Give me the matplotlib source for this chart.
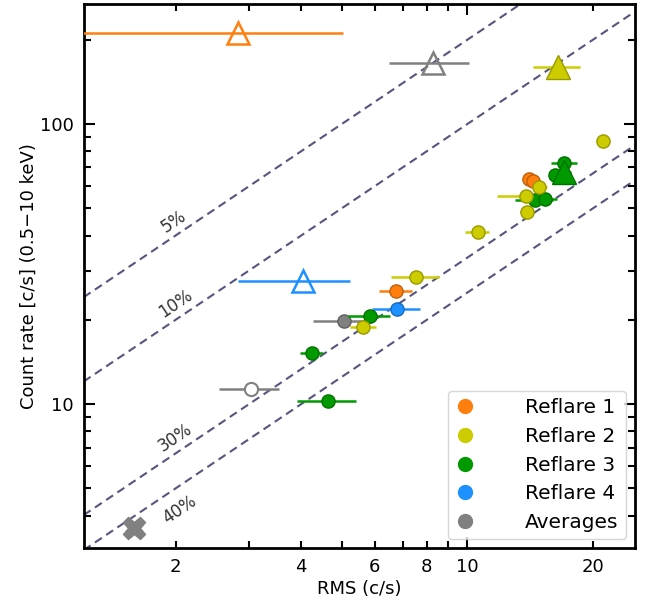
import numpy as np
import matplotlib
matplotlib.use("Agg")
import matplotlib.pyplot as plt
from matplotlib.lines import Line2D
from matplotlib.ticker import FuncFormatter, NullFormatter

# colours per group
C_R1 = '#ff7f0e'
C_R2 = '#cccc00'
C_R3 = '#009900'
C_R4 = '#1e90ff'
C_AV = '#808080'

# Reflare 1
r1_x = [6.76, 14.1, 14.4]
r1_y = [25.3, 63.7, 62.6]
r1_xerr = [0.6, 0.5, 0.5]
r1_tri = (2.83, 211, 2.2)

# Reflare 2
r2_x = [21.1, 14.9, 13.8, 13.9, 10.6, 7.55, 5.64]
r2_y = [86.9, 59.6, 55.3, 48.5, 41.1, 28.4, 18.8]
r2_xerr = [0.8, 0.6, 2.0, 0.5, 0.7, 1.0, 0.4]
r2_tri = (16.5, 160, 2.1)

# Reflare 3
r3_x = [17.1, 16.2, 14.55, 15.4, 5.86, 4.24, 4.65]
r3_y = [72.6, 65.8, 53.5, 53.9, 20.6, 15.2, 10.3]
r3_xerr = [1.25, 0.5, 1.5, 1.0, 0.67, 0.27, 0.75]
r3_tri = (17.1, 67.4, 0.6)

# Reflare 4
r4_x = [6.80]
r4_y = [21.8]
r4_xerr = [0.9]
r4_tri = (4.03, 27.5, 1.2)

# Averages
av_fill = (5.08, 19.8, 0.8)
av_open = (3.04, 11.3, 0.5)
av_tri = (8.3, 165, 1.8)
av_cross = (1.59, 3.6)

fractions = [0.05, 0.10, 0.30, 0.40]
frac_labels = ['5%', '10%', '30%', '40%']
label_pos = [(1.98, 44.7), (2.0, 22.9), (2.0, 7.6), (2.05, 4.2)]

legend_names = ['Reflare 1', 'Reflare 2', 'Reflare 3', 'Reflare 4', 'Averages']
legend_cols = [C_R1, C_R2, C_R3, C_R4, C_AV]


def darker(c, f=0.75):
    r, g, b = matplotlib.colors.to_rgb(c)
    return (r * f, g * f, b * f)


fig = plt.figure(figsize=(6.49, 6.05), dpi=100)
ax = fig.add_axes([0.129, 0.094, 0.849, 0.899])
ax.set_xscale('log')
ax.set_yscale('log')
ax.set_xlim(1.205, 25.2)
ax.set_ylim(3.06, 268)

# constant fractional rms lines
xx = np.array([1.0, 40.0])
for f in fractions:
    ax.plot(xx, xx / f, ls='--', color='#55557f', lw=1.5, dashes=(4, 2.5), zorder=1)

# circles with x error bars
for xs, ys, es, c in [(r1_x, r1_y, r1_xerr, C_R1), (r3_x, r3_y, r3_xerr, C_R3),
                      (r2_x, r2_y, r2_xerr, C_R2), (r4_x, r4_y, r4_xerr, C_R4)]:
    ax.errorbar(xs, ys, xerr=es, fmt='o', color=c, ms=9.5, mec=darker(c),
                mew=1.0, elinewidth=1.8, capsize=0, zorder=3)

# triangles
ax.errorbar(r1_tri[0], r1_tri[1], xerr=r1_tri[2], fmt='^', color=C_R1, ms=16,
            mfc='none', mec=C_R1, mew=1.8, elinewidth=1.8, zorder=3)
ax.errorbar(r2_tri[0], r2_tri[1], xerr=r2_tri[2], fmt='^', color=C_R2, ms=17,
            mec=darker(C_R2), mew=1.0, elinewidth=1.8, zorder=3)
ax.errorbar(r3_tri[0], r3_tri[1], xerr=r3_tri[2], fmt='^', color=C_R3, ms=17,
            mec=darker(C_R3), mew=1.0, elinewidth=1.8, zorder=4)
ax.errorbar(r4_tri[0], r4_tri[1], xerr=r4_tri[2], fmt='^', color=C_R4, ms=16,
            mfc='none', mec=C_R4, mew=1.8, elinewidth=1.8, zorder=3)
ax.errorbar(av_tri[0], av_tri[1], xerr=av_tri[2], fmt='^', color=C_AV, ms=16,
            mfc='none', mec=C_AV, mew=1.8, elinewidth=1.8, zorder=3)

# averages circles
ax.errorbar(av_fill[0], av_fill[1], xerr=av_fill[2], fmt='o', color=C_AV, ms=9.5,
            mec=darker(C_AV), mew=1.0, elinewidth=1.8, zorder=2.5)
ax.errorbar(av_open[0], av_open[1], xerr=av_open[2], fmt='o', color=C_AV, ms=9.5,
            mfc='white', mec=C_AV, mew=1.5, elinewidth=1.8, zorder=3)
ax.plot(av_cross[0], av_cross[1], marker='X', color=C_AV, ms=16, ls='none', zorder=3)

# line labels, rotated along the lines
p1 = ax.transData.transform((2.0, 2.0 / 0.1))
p2 = ax.transData.transform((20.0, 20.0 / 0.1))
ang = np.degrees(np.arctan2(p2[1] - p1[1], p2[0] - p1[0]))
for lab, (lx, ly) in zip(frac_labels, label_pos):
    ax.text(lx, ly, lab, rotation=ang, ha='center', va='center', fontsize=12,
            color='#333333', rotation_mode='anchor')

# ticks
ax.tick_params(which='both', direction='in', top=True, right=True, labelsize=13, pad=7)
ax.tick_params(which='major', length=8, width=1.5)
ax.tick_params(which='minor', length=5, width=1.5)


def minor_fmt(v, pos):
    for t in (2, 4, 6, 8, 20):
        if abs(v - t) < 1e-6:
            return '%d' % t
    return ''


ax.xaxis.set_major_formatter(FuncFormatter(lambda v, p: '%d' % v))
ax.xaxis.set_minor_formatter(FuncFormatter(minor_fmt))
ax.yaxis.set_major_formatter(FuncFormatter(lambda v, p: '%d' % v))
ax.yaxis.set_minor_formatter(NullFormatter())
for s in ax.spines.values():
    s.set_linewidth(2)

ax.set_xlabel('RMS (c/s)', fontsize=13, labelpad=3)
ax.set_ylabel('Count rate [c/s] (0.5\u221210 keV)', fontsize=13, labelpad=2)

handles = [Line2D([], [], marker='o', ls='none', color=c, ms=10) for c in legend_cols]
ax.legend(handles, legend_names, loc='lower right', fontsize=14.5,
          handlelength=1.0, handletextpad=2.5, borderaxespad=0.45,
          labelspacing=0.48, framealpha=0.8, borderpad=0.35)

fig.savefig('out.png', dpi=100)
